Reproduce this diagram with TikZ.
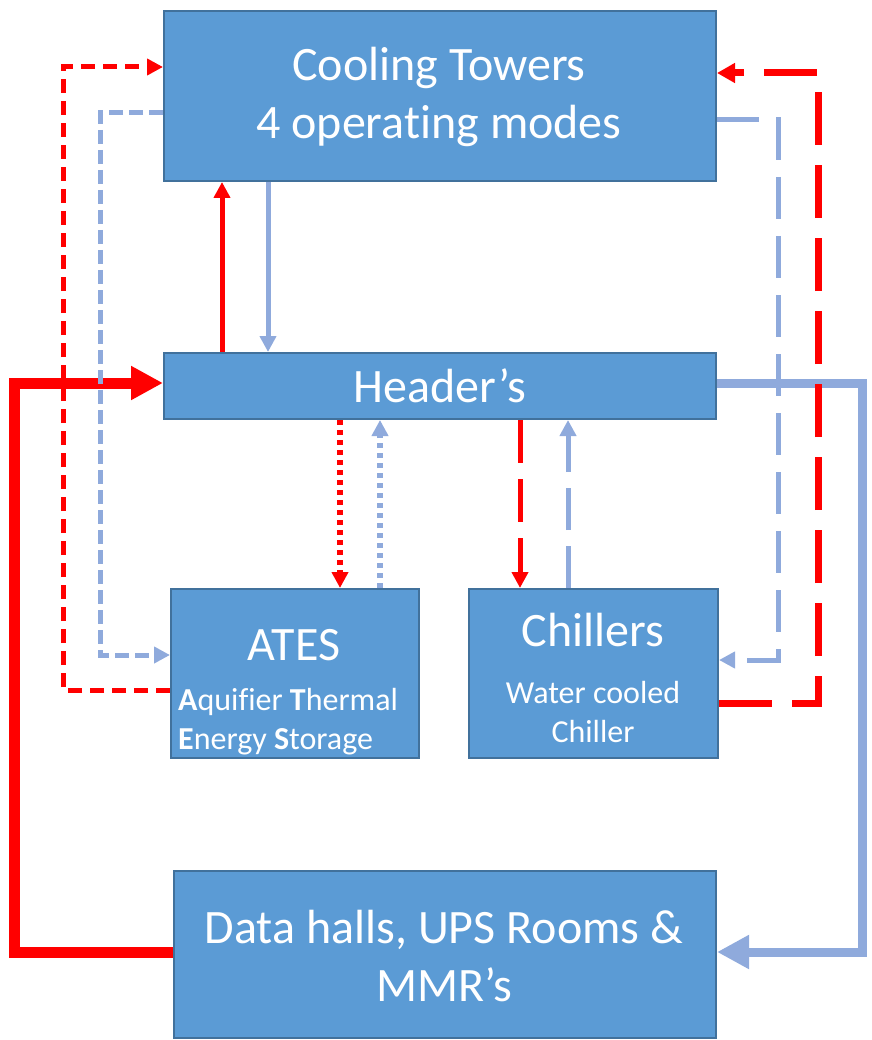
\documentclass[tikz,border=0pt]{standalone}
\usepackage{fontspec}
\setmainfont{Carlito}[Ligatures=NoCommon]
\usetikzlibrary{arrows.meta}

\definecolor{boxfill}{HTML}{5B9BD5}
\definecolor{boxline}{HTML}{41719C}
\definecolor{pipeblue}{HTML}{8FAADC}
\definecolor{pipered}{HTML}{FF0000}

\tikzset{
  unit/.style={draw=boxline, fill=boxfill, line width=2pt, anchor=north west, inner sep=0pt},
  big/.style={text=white, font=\fontsize{48}{58}\selectfont, align=center, inner sep=0pt},
  small/.style={text=white, font=\fontsize{32}{39}\selectfont, inner sep=0pt},
  hot/.style={draw=pipered, line width=5pt, -{Triangle[length=16pt,width=16pt]}},
  cold/.style={draw=pipeblue, line width=5pt, -{Triangle[length=16pt,width=16pt]}},
  fat/.style={line width=11pt, -{Triangle[length=32pt,width=32pt]}},
}

\begin{document}
\begin{tikzpicture}[x=1pt,y=-1pt]
\useasboundingbox (0,0) rectangle (871,1040);

% blocks
\node[unit, minimum width=552pt, minimum height=170pt] (ct) at (163,10) {};
\node[unit, minimum width=552pt, minimum height=66pt] (hdr) at (163,352) {};
\node[unit, minimum width=248pt, minimum height=169pt] (ates) at (170,588) {};
\node[unit, minimum width=249pt, minimum height=169pt] (chl) at (468,588) {};
\node[unit, minimum width=542pt, minimum height=167pt] (dh) at (173,870) {};

\node[big] (cttxt) at (439,97) {Cooling Towers\\4 operating modes};
\node[big] (hdrtxt) at (hdr.center) {Header’s};
\node[big] (atestxt) at (294,645) {ATES};
\node[small, anchor=west, align=left] (atessub) at (178,722) {\textbf{A}quifier \textbf{T}hermal\\\textbf{E}nergy \textbf{S}torage};
\node[big] (chltxt) at (593,630) {Chillers};
\node[small, align=center] (chlsub) at (593,712) {Water cooled\\Chiller};
\node[big] (dhtxt) at (444,956) {Data halls, UPS Rooms \&\\MMR’s};

% main loop
\draw[hot, fat] (dh.west |- 0,952) -| (14,383) -- (hdr.west |- 0,383);
\draw[cold, line width=9pt, -{Triangle[length=32pt,width=32pt]}] (hdr.east |- 0,383) -| (862,952) -- (dh.east |- 0,952);

% cooling towers
\draw[hot] (hdr.north -| 222,0) -- (ct.south -| 222,0);
\draw[cold] (ct.south -| 268,0) -- (hdr.north -| 268,0);

% ates
\draw[hot, dash pattern=on 14pt off 8pt] (ates.west |- 0,690) -| (63,67) -- (ct.west |- 0,67);
\draw[cold, dash pattern=on 14pt off 6pt] (ct.west |- 0,113) -| (100,655) -- (ates.west |- 0,655);
\draw[hot, line width=6pt, dash pattern=on 5pt off 5pt] (hdr.south -| 340,0) -- (ates.north -| 340,0);
\draw[cold, line width=6pt, dash pattern=on 5pt off 5pt] (ates.north -| 380,0) -- (hdr.south -| 380,0);

% chillers
\draw[hot, dash pattern=on 43pt off 16pt] (hdr.south -| 520,0) -- (chl.north -| 520,0);
\draw[cold, dash pattern=on 42pt off 16pt] (chl.north -| 568,0) -- (hdr.south -| 568,0);
\draw[cold, dash pattern=on 42pt off 17pt] (ct.east |- 0,120) -| (778,660) -- (chl.east |- 0,660);
\draw[hot, line width=7pt, dash pattern=on 53pt off 20pt, -{Triangle[length=18pt,width=19pt]}] (chl.east |- 0,703) -| (818,73) -- (ct.east |- 0,73);
\end{tikzpicture}
\end{document}
